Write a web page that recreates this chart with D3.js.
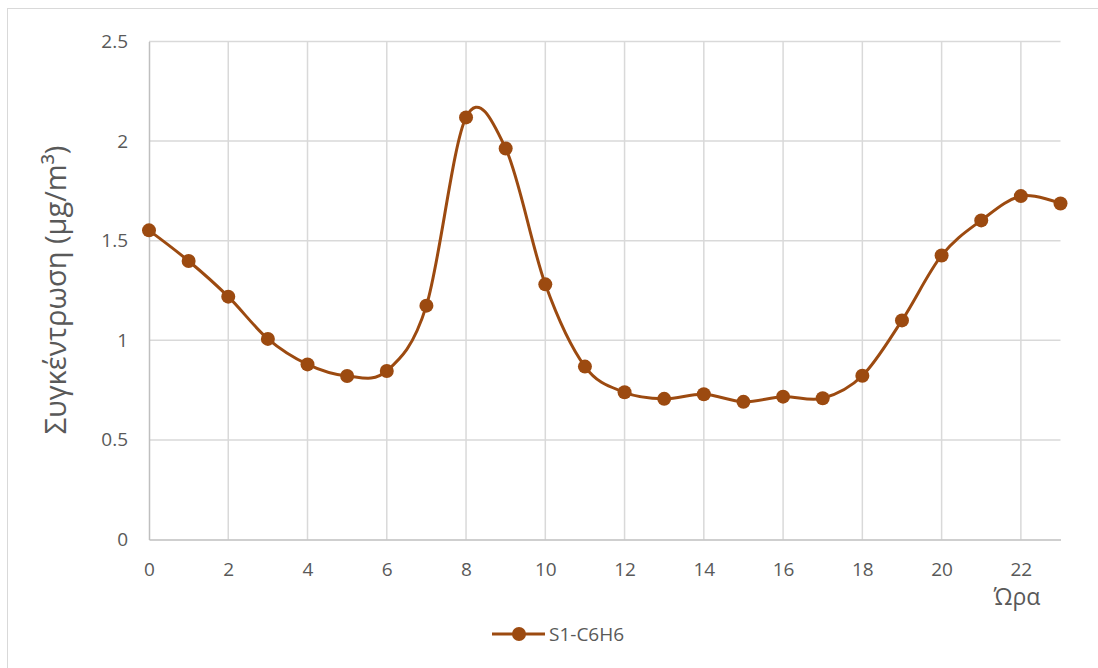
<!DOCTYPE html>
<html>
<head>
<meta charset="utf-8">
<script src="https://cdn.jsdelivr.net/npm/d3@7"></script>
<style>
  html, body { margin: 0; padding: 0; background: #fff; }
  svg { display: block; }
  text { font-family: "Open Sans", "Noto Sans", sans-serif; fill: #595959; }
</style>
</head>
<body>
<svg id="chart" width="1098" height="668"></svg>
<script>
// Hourly benzene concentration, station S1
const hours = d3.range(0, 24);
const c6h6 = [1.552, 1.398, 1.219, 1.007, 0.879, 0.821, 0.846, 1.174,
              2.119, 1.963, 1.281, 0.868, 0.739, 0.706, 0.729, 0.691,
              0.717, 0.709, 0.822, 1.100, 1.426, 1.602, 1.724, 1.687];
const xTicks = [0, 2, 4, 6, 8, 10, 12, 14, 16, 18, 20, 22];
const yTicks = [0, 0.5, 1, 1.5, 2, 2.5];
const seriesName = "S1-C6H6";

const color = "#9C4A10";
const font = "'Open Sans', 'Noto Sans', sans-serif";
const svg = d3.select("#chart");

// outer chart frame
svg.append("rect")
  .attr("x", 7.5).attr("y", 8.5)
  .attr("width", 1120).attr("height", 700)
  .attr("fill", "#fff").attr("stroke", "#d9d9d9").attr("stroke-width", 1);

const plotLeft = 149, plotRight = 1060.5, plotTop = 41.5, plotBottom = 539.5;
const x = d3.scaleLinear().domain([0, 23]).range([plotLeft, plotRight]);
const y = d3.scaleLinear().domain([0, 2.5]).range([plotBottom, plotTop]);

// gridlines
const grid = svg.append("g");
grid.selectAll("line.h").data(yTicks.filter(d => d > 0)).join("line")
  .attr("class", "h")
  .attr("x1", plotLeft).attr("x2", plotRight)
  .attr("y1", d => y(d)).attr("y2", d => y(d))
  .attr("stroke", "#d9d9d9").attr("stroke-width", 1.5);
grid.selectAll("line.v").data(xTicks.filter(d => d > 0)).join("line")
  .attr("class", "v")
  .attr("x1", d => x(d)).attr("x2", d => x(d))
  .attr("y1", plotTop).attr("y2", plotBottom)
  .attr("stroke", "#d9d9d9").attr("stroke-width", 1.5);

// axes
const xAxis = svg.append("g").attr("transform", `translate(0,${plotBottom})`)
  .call(d3.axisBottom(x).tickValues(xTicks).tickSize(0).tickPadding(23).tickFormat(d3.format("d")));
xAxis.select(".domain").attr("stroke", "#bfbfbf").attr("stroke-width", 1.5);
xAxis.selectAll("text").attr("font-size", 19).style("fill", "#595959")
  .style("font-family", font);

const yAxis = svg.append("g").attr("transform", `translate(${plotLeft},0)`)
  .call(d3.axisLeft(y).tickValues(yTicks).tickSize(0).tickPadding(21).tickFormat(d => String(d)));
yAxis.select(".domain").attr("stroke", "#bfbfbf").attr("stroke-width", 1.5);
yAxis.selectAll("text").attr("font-size", 19).style("fill", "#595959")
  .style("font-family", font);

// axis titles
svg.append("text")
  .attr("transform", "translate(66,290) rotate(-90)")
  .attr("text-anchor", "middle")
  .attr("font-size", 29)
  .text("Συγκέντρωση (μg/m³)");
svg.append("text")
  .attr("x", 1017).attr("y", 605)
  .attr("text-anchor", "middle")
  .attr("font-size", 23)
  .text("Ώρα");

// smoothed series line
const pts = hours.map((h, i) => [h, c6h6[i]]);
const line = d3.line()
  .x(d => x(d[0])).y(d => y(d[1]))
  .curve(d3.curveCardinal.tension(0));
svg.append("path").datum(pts)
  .attr("d", line)
  .attr("fill", "none").attr("stroke", color).attr("stroke-width", 3)
  .attr("stroke-linejoin", "round");

svg.append("g").selectAll("circle").data(pts).join("circle")
  .attr("cx", d => x(d[0])).attr("cy", d => y(d[1]))
  .attr("r", 7).attr("fill", color);

// legend
const lg = svg.append("g").attr("transform", "translate(0,634)");
lg.append("line").attr("x1", 492).attr("x2", 545).attr("y1", 0).attr("y2", 0)
  .attr("stroke", color).attr("stroke-width", 3);
lg.append("circle").attr("cx", 519).attr("cy", 0).attr("r", 7).attr("fill", color);
lg.append("text").attr("x", 549).attr("y", 7).attr("font-size", 19).text(seriesName);
</script>
</body>
</html>
